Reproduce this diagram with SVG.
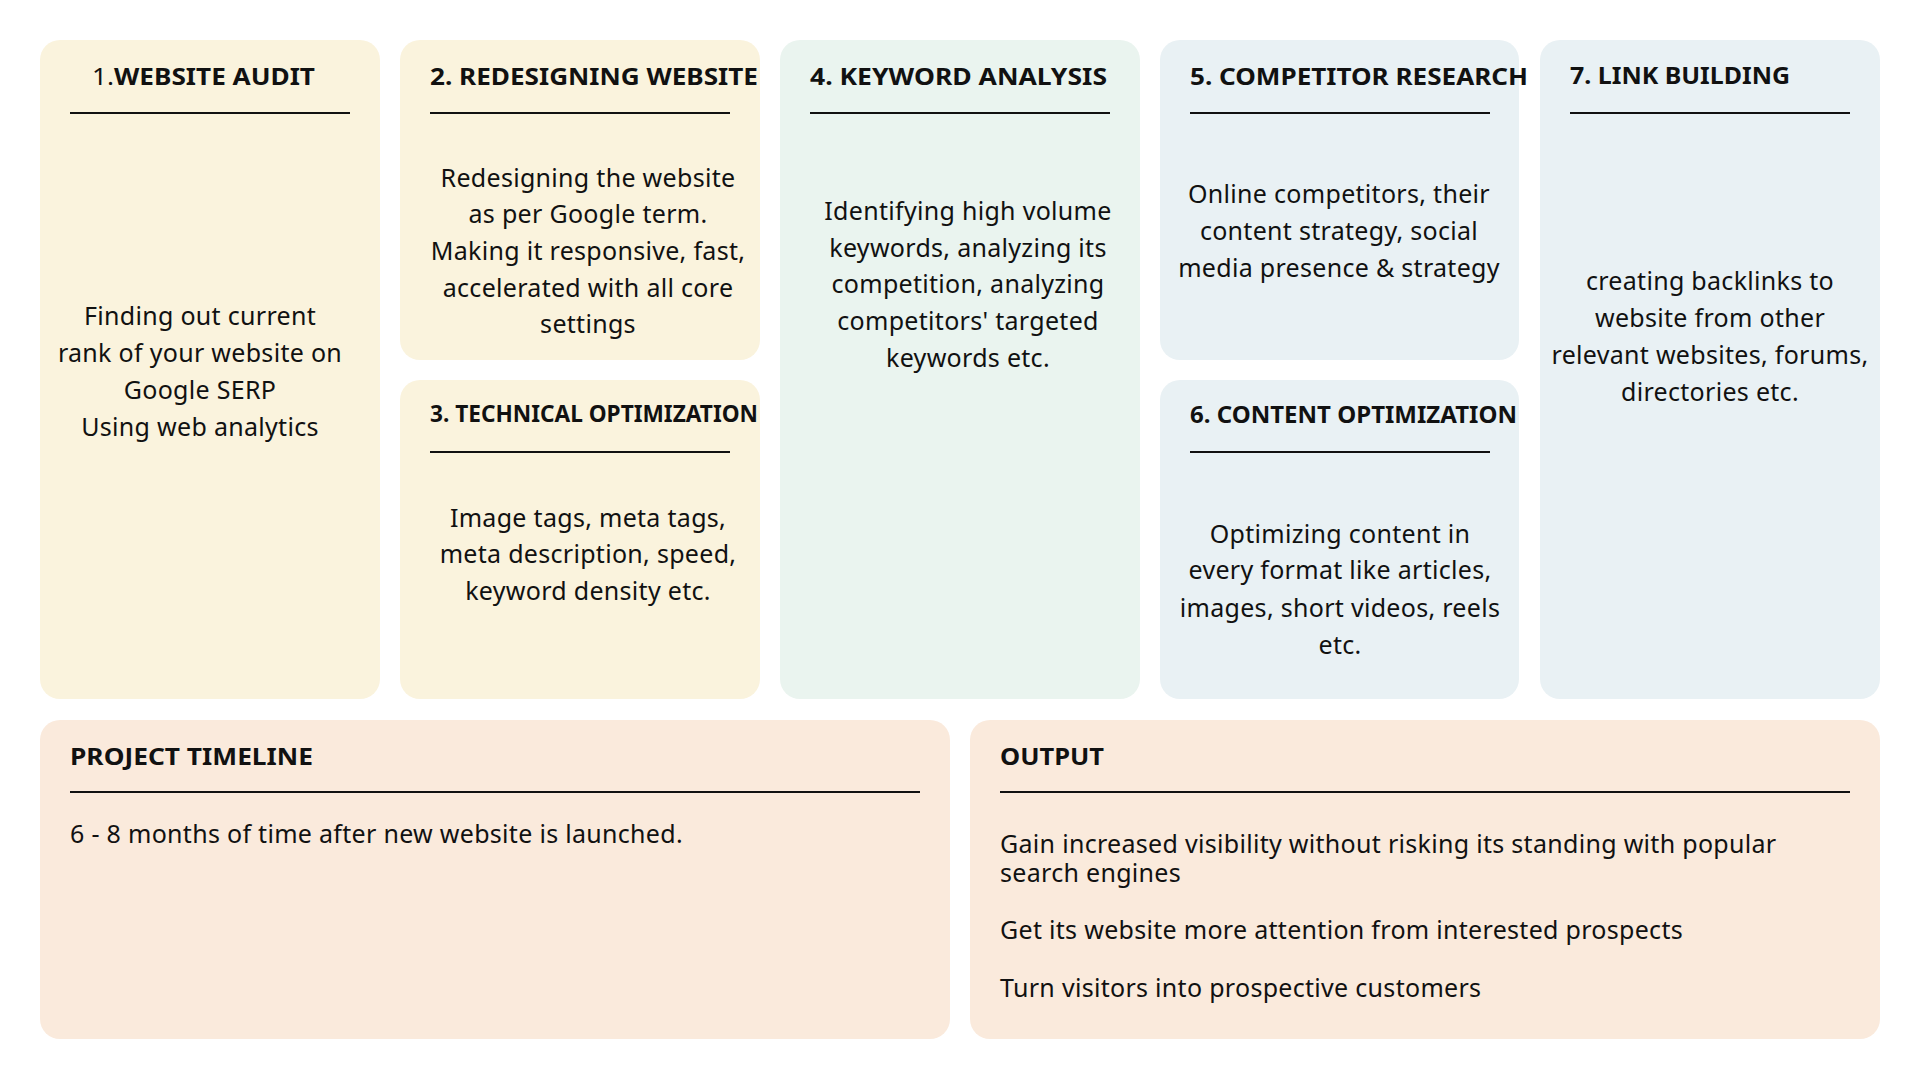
<svg xmlns="http://www.w3.org/2000/svg" width="1920" height="1080" viewBox="0 0 1920 1080">
<style>
.card{stroke:none}
.cream{fill:#FAF3DD}
.green{fill:#EAF4EF}
.blue{fill:#E9F1F4}
.peach{fill:#FAEADC}
.title{font-family:"Noto Sans","Liberation Sans",sans-serif;font-weight:700;font-size:24px;fill:#111}
.body{font-family:"Noto Sans","Liberation Sans",sans-serif;font-size:25px;letter-spacing:0.3px;fill:#111}
.c{text-anchor:middle}
.rule{stroke:#111;stroke-width:2}
</style>
<rect width="1920" height="1080" fill="#FFFFFF"/>
<g id="website-audit">
<rect class="card cream" x="40" y="40" width="340" height="659" rx="20"/>
<text class="title" x="92" y="85" textLength="223" lengthAdjust="spacingAndGlyphs"><tspan font-weight="400">1.</tspan>WEBSITE AUDIT</text>
<line class="rule" x1="70" y1="113" x2="350" y2="113"/>
<text class="body c" x="200" y="325">Finding out current</text>
<text class="body c" x="200" y="362">rank of your website on</text>
<text class="body c" x="200" y="399">Google SERP</text>
<text class="body c" x="200" y="436">Using web analytics</text>
</g>
<g id="redesigning-website">
<rect class="card cream" x="400" y="40" width="360" height="320" rx="20"/>
<text class="title" x="430" y="85" textLength="328" lengthAdjust="spacingAndGlyphs">2. REDESIGNING WEBSITE</text>
<line class="rule" x1="430" y1="113" x2="730" y2="113"/>
<text class="body c" x="588" y="187">Redesigning the website</text>
<text class="body c" x="588" y="223">as per Google term.</text>
<text class="body c" x="588" y="260">Making it responsive, fast,</text>
<text class="body c" x="588" y="297">accelerated with all core</text>
<text class="body c" x="588" y="333">settings</text>
</g>
<g id="technical-optimization">
<rect class="card cream" x="400" y="380" width="360" height="319" rx="20"/>
<text class="title" x="430" y="422" textLength="328" lengthAdjust="spacingAndGlyphs">3. TECHNICAL OPTIMIZATION</text>
<line class="rule" x1="430" y1="452" x2="730" y2="452"/>
<text class="body c" x="588" y="527">Image tags, meta tags,</text>
<text class="body c" x="588" y="563">meta description, speed,</text>
<text class="body c" x="588" y="600">keyword density etc.</text>
</g>
<g id="keyword-analysis">
<rect class="card green" x="780" y="40" width="360" height="659" rx="20"/>
<text class="title" x="810" y="85" textLength="297" lengthAdjust="spacingAndGlyphs">4. KEYWORD ANALYSIS</text>
<line class="rule" x1="810" y1="113" x2="1110" y2="113"/>
<text class="body c" x="968" y="220">Identifying high volume</text>
<text class="body c" x="968" y="257">keywords, analyzing its</text>
<text class="body c" x="968" y="293">competition, analyzing</text>
<text class="body c" x="968" y="330">competitors' targeted</text>
<text class="body c" x="968" y="367">keywords etc.</text>
</g>
<g id="competitor-research">
<rect class="card blue" x="1160" y="40" width="359" height="320" rx="20"/>
<text class="title" x="1190" y="85" textLength="338" lengthAdjust="spacingAndGlyphs">5. COMPETITOR RESEARCH</text>
<line class="rule" x1="1190" y1="113" x2="1490" y2="113"/>
<text class="body c" x="1339" y="203">Online competitors, their</text>
<text class="body c" x="1339" y="240">content strategy, social</text>
<text class="body c" x="1339" y="277">media presence &amp; strategy</text>
</g>
<g id="content-optimization">
<rect class="card blue" x="1160" y="380" width="359" height="319" rx="20"/>
<text class="title" x="1190" y="423" textLength="327" lengthAdjust="spacingAndGlyphs">6. CONTENT OPTIMIZATION</text>
<line class="rule" x1="1190" y1="452" x2="1490" y2="452"/>
<text class="body c" x="1340" y="543">Optimizing content in</text>
<text class="body c" x="1340" y="579">every format like articles,</text>
<text class="body c" x="1340" y="617">images, short videos, reels</text>
<text class="body c" x="1340" y="654">etc.</text>
</g>
<g id="link-building">
<rect class="card blue" x="1540" y="40" width="340" height="659" rx="20"/>
<text class="title" x="1570" y="84" textLength="220" lengthAdjust="spacingAndGlyphs">7. LINK BUILDING</text>
<line class="rule" x1="1570" y1="113" x2="1850" y2="113"/>
<text class="body c" x="1710" y="290">creating backlinks to</text>
<text class="body c" x="1710" y="327">website from other</text>
<text class="body c" x="1710" y="364">relevant websites, forums,</text>
<text class="body c" x="1710" y="401">directories etc.</text>
</g>
<g id="project-timeline">
<rect class="card peach" x="40" y="720" width="910" height="319" rx="20"/>
<text class="title" x="70" y="765" textLength="243" lengthAdjust="spacingAndGlyphs">PROJECT TIMELINE</text>
<line class="rule" x1="70" y1="792" x2="920" y2="792"/>
<text class="body" x="70" y="843">6 - 8 months of time after new website is launched.</text>
</g>
<g id="output">
<rect class="card peach" x="970" y="720" width="910" height="319" rx="20"/>
<text class="title" x="1000" y="765" textLength="104" lengthAdjust="spacingAndGlyphs">OUTPUT</text>
<line class="rule" x1="1000" y1="792" x2="1850" y2="792"/>
<text class="body" x="1000" y="853">Gain increased visibility without risking its standing with popular</text>
<text class="body" x="1000" y="882">search engines</text>
<text class="body" x="1000" y="939">Get its website more attention from interested prospects</text>
<text class="body" x="1000" y="997">Turn visitors into prospective customers</text>
</g>
<g id="connectors"/>
</svg>
